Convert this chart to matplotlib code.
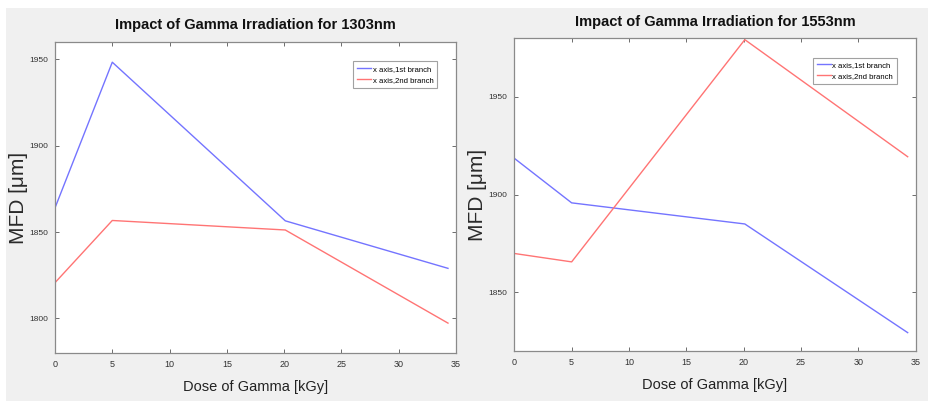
import matplotlib
matplotlib.use("Agg")
import matplotlib.pyplot as plt
from matplotlib.patches import Rectangle
from matplotlib import font_manager

# Measurement data: mode field diameter vs. gamma dose
dose = [0, 5, 20.1, 34.3]
mfd_1303_branch1 = [1864, 1948.3, 1856.5, 1829]
mfd_1303_branch2 = [1820.7, 1856.7, 1851.2, 1797.3]
mfd_1553_branch1 = [1918.6, 1895.8, 1885, 1829.4]
mfd_1553_branch2 = [1869.9, 1865.6, 1979.3, 1919.4]

series_labels = ["x axis,1st branch", "x axis,2nd branch"]
xticks = [0, 5, 10, 15, 20, 25, 30, 35]
yticks_1303 = [1800, 1850, 1900, 1950]
yticks_1553 = [1850, 1900, 1950]

names = {f.name for f in font_manager.fontManager.ttflist}
narrow = "Liberation Sans Narrow" if "Liberation Sans Narrow" in names else "Liberation Sans"
narrow_fam = [narrow, "DejaVu Sans"]
wide_fam = ["Liberation Sans", "DejaVu Sans"]

fig = plt.figure(figsize=(9.29, 4.01), dpi=100)
fig.patch.set_facecolor("white")
fig.add_artist(Rectangle((6 / 929, 0), 1 - 6 / 929, 1 - 8 / 401,
                         transform=fig.transFigure, facecolor="#f0f0f0",
                         edgecolor="none", zorder=-10))

blue = "#7474ff"
red = "#ff7474"


def panel(rect, b1, b2, ylim, yticks, title):
    ax = fig.add_axes(rect)
    ax.set_facecolor("white")
    ax.plot(dose, b1, color=blue, lw=1.0, label=series_labels[0])
    ax.plot(dose, b2, color=red, lw=1.0, label=series_labels[1])
    ax.set_xlim(0, 35)
    ax.set_ylim(*ylim)
    ax.set_xticks(xticks)
    ax.set_yticks(yticks)
    ax.set_xticklabels([str(t) for t in xticks], family=narrow_fam, fontsize=6.5, color="#333333")
    ax.set_yticklabels([str(t) for t in yticks], family=narrow_fam, fontsize=6, color="#333333")
    ax.tick_params(direction="in", length=3, width=0.6, color="#555555",
                   top=True, right=True, pad=5)
    for s in ax.spines.values():
        s.set_color("#8a8a8a")
        s.set_linewidth(0.9)
    ax.set_title(title, family=narrow_fam, fontsize=10.5, fontweight="bold", pad=9, color="#111111")
    ax.set_xlabel("Dose of Gamma [kGy]", family=narrow_fam, fontsize=10.5, labelpad=8, color="#222222")
    ax.set_ylabel("MFD [\u03bcm]", family=wide_fam, fontsize=15, color="#2a2a2a")
    px = fig.dpi * fig.get_figwidth()
    ax.yaxis.set_label_coords(-27 / (rect[2] * px), 0.5)
    leg = ax.legend(loc="upper right", prop={"family": narrow_fam, "size": 5.6},
                    frameon=True, fancybox=False, handlelength=1.8, handletextpad=0.2,
                    borderpad=0.5, labelspacing=0.45, bbox_to_anchor=(0.963, 0.95))
    leg.get_frame().set_edgecolor("#8a8a8a")
    leg.get_frame().set_linewidth(0.8)
    return ax


panel([55 / 929, 1 - 353 / 401, 401 / 929, 311 / 401],
      mfd_1303_branch1, mfd_1303_branch2, (1780, 1960), yticks_1303,
      "Impact of Gamma Irradiation for 1303nm")
panel([514.3 / 929, 1 - 351 / 401, 401.4 / 929, 312.7 / 401],
      mfd_1553_branch1, mfd_1553_branch2, (1820, 1980), yticks_1553,
      "Impact of Gamma Irradiation for 1553nm")

fig.savefig("out.png", dpi=100, facecolor=fig.get_facecolor())
